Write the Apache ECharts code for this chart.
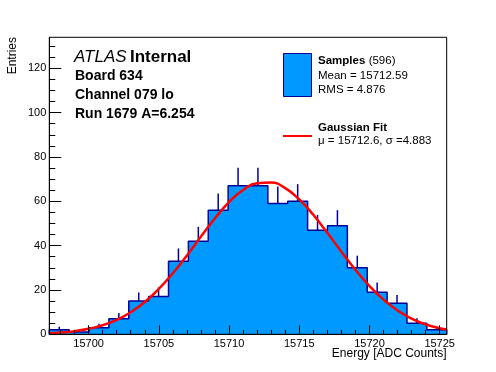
<!DOCTYPE html>
<html><head><meta charset="utf-8">
<script src="https://cdn.jsdelivr.net/npm/echarts@6/dist/echarts.min.js"></script>
<style>html,body{margin:0;padding:0;background:#fff}#c{width:496px;height:372px}</style>
</head><body><div id="c"></div>
<script>
// ---- data ----
const binLow = 15697.2;
const binWidth = 1.415;
const counts = [2, 1, 3, 7, 15, 17, 33, 42, 56, 67, 67, 59, 60, 47, 49, 30, 19, 14, 5, 2];
const xTickValues = [15700, 15705, 15710, 15715, 15720, 15725];
const xMinorTickValues = [15698,15699,15700,15701,15702,15703,15704,15705,15706,15707,15708,15709,15710,15711,15712,15713,15714,15715,15716,15717,15718,15719,15720,15721,15722,15723,15724,15725];
const yTickValues = [0, 20, 40, 60, 80, 100, 120];
const yMinorTickValues = [0,5,10,15,20,25,30,35,40,45,50,55,60,65,70,75,80,85,90,95,100,105,110,115,120,125,130];
const fitX = [15697.2,15698,15699,15700,15701,15702,15703,15704,15705,15706,15707,15708,15709,15710,15711,15712,15713,15714,15715,15716,15717,15718,15719,15720,15721,15722,15723,15724,15725,15725.5];
const fitY = [0.48,0.79,1.42,2.46,4.09,6.51,9.95,14.57,20.47,27.56,35.59,44.08,52.35,59.62,65.11,68.18,68.47,65.93,60.88,53.91,45.77,37.28,29.10,21.79,15.64,10.77,7.11,4.50,2.73,2.13];
const xMax = 15725.5;
const yMax = 134;

// ---- derived ----
const edges = counts.map((c, i) => binLow + i * binWidth).concat([binLow + counts.length * binWidth]);
const stepData = [[edges[0], 0]];
counts.forEach((c, i) => stepData.push([edges[i], c]));
stepData.push([edges[counts.length], counts[counts.length - 1]]);
stepData.push([edges[counts.length], 0]);
const errData = counts.map((c, i) => [binLow + (i + 0.5) * binWidth, c, Math.sqrt(c)]);
const fitData = fitX.map((x, i) => [x, fitY[i]]);

const FONT = 'Liberation Sans, Arial, Helvetica, sans-serif';
const NAVY = '#000099';
const FILL = '#0099ff';

const chart = echarts.init(document.getElementById('c'), null, {renderer: 'canvas'});
const gl = 49.3, gt = 37.3, gr = 496 - 446.7, gb = 372 - 334.3;

chart.setOption({
  animation: false,
  backgroundColor: '#fff',
  textStyle: {fontFamily: FONT},
  grid: {left: gl, top: gt, right: gr, bottom: gb, show: true, borderColor: '#000', borderWidth: 1, backgroundColor: 'transparent', z: 20},
  xAxis: [{
    type: 'value', min: binLow, max: xMax, z: 10,
    axisLine: {show: true, lineStyle: {color: '#000', width: 1}},
    axisTick: {show: true, inside: true, length: 9, customValues: xTickValues, lineStyle: {color: '#000'}},
    axisLabel: {customValues: xTickValues, formatter: v => String(v), color: '#000', fontSize: 11, fontFamily: FONT, margin: 4},
    splitLine: {show: false}
  }, {
    type: 'value', min: binLow, max: xMax, z: 10, position: 'bottom',
    axisLine: {show: false},
    axisTick: {show: true, inside: true, length: 4.5, customValues: xMinorTickValues, lineStyle: {color: '#000'}},
    axisLabel: {show: false},
    splitLine: {show: false}
  }],
  yAxis: [{
    type: 'value', min: 0, max: yMax, z: 10,
    axisLine: {show: true, lineStyle: {color: '#000', width: 1}},
    axisTick: {show: true, inside: true, length: 12, customValues: yTickValues, lineStyle: {color: '#000'}},
    axisLabel: {customValues: yTickValues, formatter: v => String(v), color: '#000', fontSize: 11, fontFamily: FONT, margin: 3},
    splitLine: {show: false}
  }, {
    type: 'value', min: 0, max: yMax, z: 10, position: 'left',
    axisLine: {show: false},
    axisTick: {show: true, inside: true, length: 6, customValues: yMinorTickValues, lineStyle: {color: '#000'}},
    axisLabel: {show: false},
    splitLine: {show: false}
  }],
  series: [{
    name: 'Samples', type: 'line', step: 'end', data: stepData, showSymbol: false, symbol: 'none',
    lineStyle: {color: NAVY, width: 1.5}, areaStyle: {color: FILL, opacity: 1, origin: 'start'},
    z: 2, silent: true
  }, {
    name: 'errors', type: 'custom', data: errData, z: 3, silent: true,
    renderItem: (params, api) => {
      const x = api.value(0), v = api.value(1), e = api.value(2);
      const p1 = api.coord([x, v]);
      const p2 = api.coord([x, v + e]);
      return {type: 'line', shape: {x1: p1[0], y1: p1[1], x2: p2[0], y2: p2[1]}, style: {stroke: NAVY, lineWidth: 1.5}};
    }
  }, {
    name: 'Gaussian Fit', type: 'line', data: fitData, smooth: true, showSymbol: false, symbol: 'none',
    lineStyle: {color: '#ff0000', width: 2.5}, z: 4, silent: true
  }],
  graphic: [
    {type: 'text', left: 74, top: 49, z: 30, style: {text: '{a|ATLAS} {b|Internal}', rich: {a: {fontStyle: 'italic', fontSize: 17, fontFamily: FONT, fill: '#000'}, b: {fontWeight: 'bold', fontSize: 17, fontFamily: FONT, fill: '#000'}}}},
    {type: 'text', left: 75, top: 69, z: 30, style: {text: 'Board 634', font: 'bold 14px ' + FONT, fill: '#000'}},
    {type: 'text', left: 75, top: 88, z: 30, style: {text: 'Channel 079 lo', font: 'bold 14px ' + FONT, fill: '#000'}},
    {type: 'text', left: 75, top: 107, z: 30, style: {text: 'Run 1679 A=6.254', font: 'bold 14px ' + FONT, fill: '#000'}},
    {type: 'rect', shape: {x: 283.5, y: 53.5, width: 28, height: 43}, z: 30, style: {fill: FILL, stroke: NAVY, lineWidth: 1}},
    {type: 'text', left: 318, top: 55, z: 30, style: {text: '{b|Samples} {n|(596)}', rich: {b: {fontWeight: 'bold', fontSize: 11.5, fontFamily: FONT, fill: '#000'}, n: {fontSize: 11.5, fontFamily: FONT, fill: '#000'}}}},
    {type: 'text', left: 318, top: 70, z: 30, style: {text: 'Mean = 15712.59', font: '11.5px ' + FONT, fill: '#000'}},
    {type: 'text', left: 318, top: 84, z: 30, style: {text: 'RMS = 4.876', font: '11.5px ' + FONT, fill: '#000'}},
    {type: 'line', shape: {x1: 283, y1: 136, x2: 312, y2: 136}, z: 30, style: {stroke: '#ff0000', lineWidth: 2}},
    {type: 'text', left: 318, top: 122, z: 30, style: {text: 'Gaussian Fit', font: 'bold 11.5px ' + FONT, fill: '#000'}},
    {type: 'text', left: 318, top: 135, z: 30, style: {text: 'μ = 15712.6, σ =4.883', font: '11.5px ' + FONT, fill: '#000'}},
    {type: 'text', right: 496 - 446.5, top: 348, z: 30, style: {text: 'Energy [ADC Counts]', font: '12px ' + FONT, fill: '#000', align: 'right'}},
    {type: 'text', x: 7, y: 37, rotation: Math.PI / 2, z: 30, style: {text: 'Entries', font: '12px ' + FONT, fill: '#000', align: 'right', verticalAlign: 'top'}}
  ]
});
</script>
</body></html>
